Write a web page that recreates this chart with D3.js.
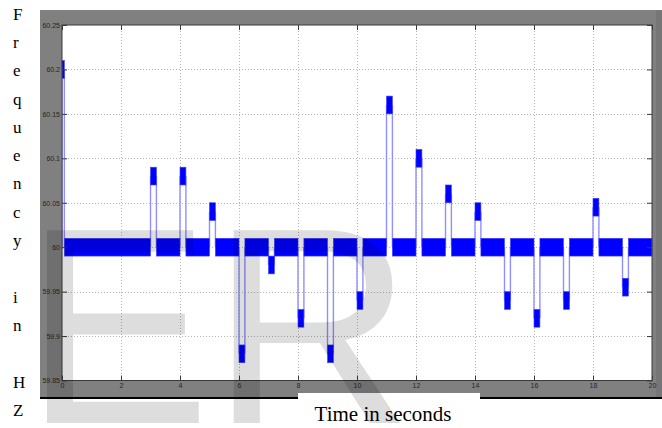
<!DOCTYPE html>
<html>
<head>
<meta charset="utf-8">
<script src="https://cdn.jsdelivr.net/npm/d3@7"></script>
<style>
  html, body { margin: 0; padding: 0; background: #ffffff; }
  svg { display: block; }
</style>
</head>
<body>
<svg id="chart" width="662" height="428"></svg>
<script>
// ---- data ----
const spikeTimes     = [0, 3, 4, 5, 6, 7, 8, 9, 10, 11, 12, 13, 14, 15, 16, 17, 18, 19];
const spikeDurations = [0.08, 0.2, 0.2, 0.2, 0.2, 0.2, 0.2, 0.2, 0.2, 0.2, 0.2, 0.2, 0.2, 0.2, 0.2, 0.2, 0.2, 0.2];
const spikeLevels    = [60.2, 60.08, 60.08, 60.04, 59.88, 59.98, 59.92, 59.88, 59.94, 60.16, 60.10, 60.06, 60.04, 59.94, 59.92, 59.94, 60.045, 59.955];
const nominalFreq = 60;
const rippleAmp = 0.01;
const xDomain = [0, 20];
const yDomain = [59.85, 60.25];
const xTicks = [0, 2, 4, 6, 8, 10, 12, 14, 16, 18, 20];
const yTicks = [59.85, 59.9, 59.95, 60, 60.05, 60.1, 60.15, 60.2, 60.25];
const yLabelChars = ["F","r","e","q","u","e","n","c","y","","i","n","","H","Z"];
const xLabelText = "Time in seconds";
const watermarkText = "ER";

// ---- layout ----
const svg = d3.select("#chart");
const P = { left: 62, right: 652, top: 25, bottom: 380.5 };
const x = d3.scaleLinear().domain(xDomain).range([P.left, P.right]);
const y = d3.scaleLinear().domain(yDomain).range([P.bottom, P.top]);

// figure background
svg.append("rect").attr("x", 40).attr("y", 10).attr("width", 622).attr("height", 387).attr("fill", "#808080");
svg.append("rect").attr("x", 656).attr("y", 10).attr("width", 6).attr("height", 387).attr("fill", "#767676");
// axes background
svg.append("rect").attr("x", P.left).attr("y", P.top)
  .attr("width", P.right - P.left).attr("height", P.bottom - P.top).attr("fill", "#ffffff");

// grid
const grid = svg.append("g").attr("stroke", "#b4b4b4").attr("stroke-width", 1).attr("stroke-dasharray", "1,2");
grid.selectAll("line.v").data(xTicks.slice(1, -1)).join("line")
  .attr("x1", d => Math.round(x(d)) + 0.5).attr("x2", d => Math.round(x(d)) + 0.5)
  .attr("y1", P.top).attr("y2", P.bottom);
grid.selectAll("line.h").data(yTicks.slice(1, -1)).join("line")
  .attr("class", "h")
  .attr("x1", P.left).attr("x2", P.right)
  .attr("y1", d => Math.round(y(d)) + 0.5).attr("y2", d => Math.round(y(d)) + 0.5);

// ---- signal ----
const spikes = spikeTimes.map((t, i) => ({ t0: t, t1: t + spikeDurations[i], level: spikeLevels[i] }));
const bands = [];
for (let i = 0; i < spikes.length; i++) {
  const start = spikes[i].t1;
  const end = i + 1 < spikes.length ? spikes[i + 1].t0 : xDomain[1];
  bands.push({ t0: start, t1: end, level: nominalFreq });
}
const sig = svg.append("g");
const trans = [];
spikes.forEach(s => { trans.push({ t: s.t0, level: s.level }); trans.push({ t: s.t1, level: s.level }); });
sig.selectAll("line.tr").data(trans).join("line")
  .attr("x1", d => x(d.t)).attr("x2", d => x(d.t))
  .attr("y1", y(nominalFreq)).attr("y2", d => y(d.level))
  .attr("stroke", "#8f8fff").attr("stroke-width", 1.4);
sig.selectAll("rect.seg").data(bands.concat(spikes)).join("rect")
  .attr("x", d => x(d.t0)).attr("width", d => x(d.t1) - x(d.t0))
  .attr("y", d => y(d.level + rippleAmp))
  .attr("height", d => y(d.level - rippleAmp) - y(d.level + rippleAmp))
  .attr("fill", "#0000ff").attr("stroke", "#4040ff").attr("stroke-width", 0.6);

// ---- axes ----
const fmt = d => String(+d.toFixed(2));
const axStyle = g => {
  g.select(".domain").remove();
  g.selectAll(".tick line").attr("stroke", "#3a3a3a");
  g.selectAll("text").attr("fill", "#262626").attr("font-family", "Liberation Sans, Arial, sans-serif").attr("font-size", 7);
};
svg.append("g").attr("transform", `translate(${P.left},0)`)
  .call(d3.axisLeft(y).tickValues(yTicks).tickFormat(fmt).tickSize(-5).tickPadding(2)).call(axStyle);
svg.append("g").attr("transform", `translate(${P.right},0)`)
  .call(d3.axisRight(y).tickValues(yTicks).tickFormat("").tickSize(-5)).call(axStyle);
svg.append("g").attr("transform", `translate(0,${P.bottom})`)
  .call(d3.axisBottom(x).tickValues(xTicks).tickFormat(d3.format("d")).tickSize(-5).tickPadding(3)).call(axStyle);
svg.append("g").attr("transform", `translate(0,${P.top})`)
  .call(d3.axisTop(x).tickValues(xTicks).tickFormat("").tickSize(-5)).call(axStyle);
svg.append("rect").attr("x", P.left).attr("y", P.top)
  .attr("width", P.right - P.left).attr("height", P.bottom - P.top)
  .attr("fill", "none").attr("stroke", "#3a3a3a").attr("stroke-width", 1);

// bottom black rule + white caption box
svg.append("rect").attr("x", 40).attr("y", 397).attr("width", 622).attr("height", 2).attr("fill", "#000");
svg.append("rect").attr("x", 298).attr("y", 393).attr("width", 182).attr("height", 35).attr("fill", "#ffffff");

// x label
svg.append("text").attr("x", 383).attr("y", 421).attr("text-anchor", "middle")
  .attr("font-family", "Liberation Serif, Times New Roman, serif").attr("font-size", 21)
  .attr("fill", "#000").text(xLabelText);

// y label (stacked letters)
svg.append("g").selectAll("text").data(yLabelChars).join("text")
  .attr("x", 13).attr("y", (d, i) => 19.6 + i * 28.3)
  .attr("font-family", "Liberation Serif, Times New Roman, serif").attr("font-size", 17)
  .attr("fill", "#000").text(d => d);

// watermark
svg.append("text").attr("x", 24).attr("y", 423)
  .attr("font-family", "Liberation Sans, Arial, sans-serif").attr("font-size", 280)
  .attr("fill", "#000").attr("fill-opacity", 0.135).text(watermarkText);
</script>
</body>
</html>
